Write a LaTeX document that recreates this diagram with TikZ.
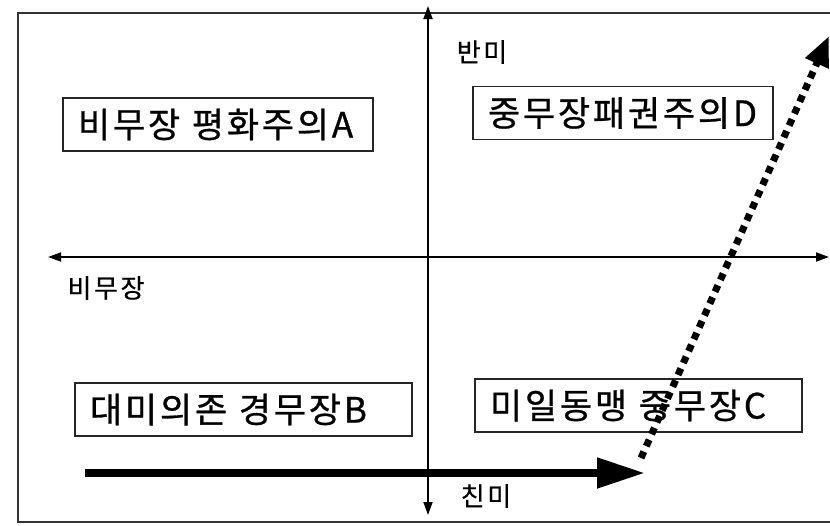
\documentclass[tikz,border=0pt]{standalone}
\usepackage{fontspec}
\setmainfont{Noto Sans CJK KR}
\usetikzlibrary{arrows.meta}
\tikzset{
  quadbox/.style={draw=black!85,line width=1.4pt,minimum height=53pt,inner xsep=15pt,inner ysep=0pt,align=left,font=\fontsize{35}{37}\selectfont\addfontfeature{LetterSpace=8,FakeBold=0.8}},
  axislabel/.style={inner sep=0pt,font=\fontsize{26}{28}\selectfont\addfontfeature{LetterSpace=10,FakeBold=0.6}},
  axisline/.style={line width=1.8pt,-{Triangle[length=13pt,width=9pt]}},
}
\begin{document}
\begin{tikzpicture}[x=1pt,y=-1pt]
\useasboundingbox (0,0) rectangle (830,525);
\clip (0,0) rectangle (830,525);
\draw[line width=1.4pt,black!80] (18,13) rectangle (840,522);
% axes
\coordinate (xl) at (48,257);
\coordinate (xr) at (829,257);
\coordinate (yt) at (428,6);
\coordinate (yb) at (428,515);
\coordinate (o) at (428,257);
\draw[axisline] (o) -- (xl);
\draw[axisline] (o) -- (xr);
\draw[axisline] (o) -- (yt);
\draw[axisline] (o) -- (yb);
% axis labels
\node[axislabel] (lan) at (482,52) {반미};
\node[axislabel] (lbm) at (106,288) {비무장};
\node[axislabel] (lch) at (486,496) {친미};
% boxes
\node[quadbox,text width=280pt,minimum width=310pt] (A) at (218,124.5) {비무장 평화주의A};
\node[quadbox,text width=270pt,minimum width=300pt] (D) at (623,113) {중무장패권주의D};
\node[quadbox,text width=307pt,minimum width=337pt] (B) at (243.5,409.5) {대미의존 경무장B};
\node[quadbox,text width=297pt,minimum width=327pt] (C) at (638.5,405.5) {미일동맹 중무장C};
% thick arrow
\coordinate (ts) at (85,473);
\coordinate (te) at (645,473);
\draw[line width=8pt,-{Triangle[length=48pt,width=29pt]}] (ts) -- (te);
% dotted arrow
\coordinate (ds) at (641,458);
\coordinate (de) at (829,36);
\draw[line width=7pt,dash pattern=on 7pt off 6pt,-{Triangle[length=30pt,width=24pt]}] (ds) -- (de);
\end{tikzpicture}
\end{document}
